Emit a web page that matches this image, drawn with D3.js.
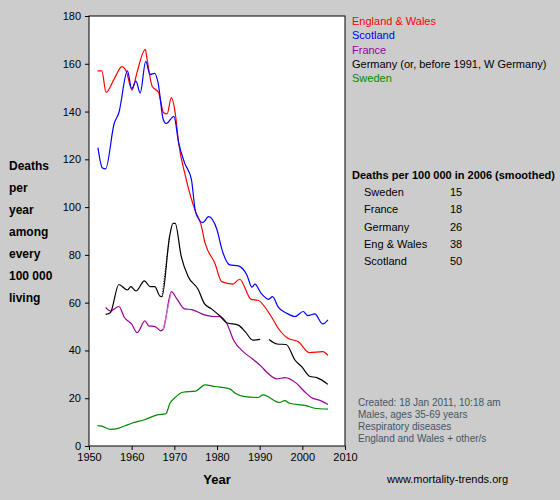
<!DOCTYPE html>
<html><head><meta charset="utf-8">
<script src="https://cdn.jsdelivr.net/npm/d3@7"></script>
<style>body{margin:0;background:#cccccc;}svg{display:block;font-family:"Liberation Sans",Arial,sans-serif;}</style>
</head><body><svg id="c" width="560" height="500"></svg>
<script>
const ewYears=[1952,1953,1954,1956,1957.7,1958.7,1960.1,1961.2,1963.2,1963.6,1964.8,1966.3,1967.5,1968.3,1969.3,1970.2,1971,1972.6,1975,1976.2,1977.2,1979.5,1981.1,1983.7,1985.3,1988,1989.6,1992.7,1994.3,1996.6,1999,2001.7,2004.8,2006];
const ewVals=[157,157,148,154,158.8,157,149,156,166,162,150.6,148,139.5,139,145.8,139.5,127,113,98,93,85,76.5,68.8,67.8,69.8,61.4,61,54.2,49.4,45.1,43.7,39.1,39.5,38];
const scYears=[1952.1,1953.1,1953.9,1955.9,1957,1959,1960,1961,1962,1963.3,1964.3,1965.4,1966.2,1967.4,1968.1,1969.9,1971,1972.4,1974,1975,1976.7,1978,1980,1981.2,1983,1985,1987,1988.2,1988.9,1990.3,1992.1,1993,1994.4,1996.3,1998.3,2000.2,2001.3,2002.9,2004.8,2006];
const scVals=[124.9,116.5,116,135,139.5,157,149.6,152.7,147.8,161,155.6,156,152,136.7,135,138,127,118.5,111.6,97.7,93.5,96,90.5,82,75.8,75.4,71.6,66.5,67.8,64,61.4,62.5,58,55.6,54.2,56.3,54.6,55.3,51.1,52.8];
const frYears=[1953.9,1955,1957,1958.3,1960,1961.3,1963.1,1964,1965.5,1966.8,1967.4,1969.3,1970.6,1972.4,1974.1,1977,1978.8,1980.7,1982.3,1983.9,1986.2,1988.2,1990.5,1991.6,1994,1995.9,1998.7,2000.6,2002.2,2004.1,2006];
const frVals=[58,56.5,58.4,53.8,51,47.5,52.4,50.3,50,48.2,48.9,64.6,61.6,57.4,57.1,54.9,54.3,54.1,51.3,44.3,39.4,36.6,33.1,31,28.1,28.6,26.1,22.6,20.2,19.1,17.4];
const deYears=[1953.9,1955,1957,1959,1959.8,1961,1963,1964.3,1965.4,1966.6,1967.1,1968.9,1969.7,1970.2,1971.6,1973.2,1975.6,1977,1978.7,1980.7,1982.3,1985,1986.6,1988.4,1990.1,1991,1992.2,1994.1,1996.2,1998.3,1999.9,2001.7,2003.4,2006];
const deVals=[55.1,55.8,67.6,65.3,66.7,64.9,69.1,66.7,66.7,62.8,62.5,87.9,93.2,93.2,79.5,71.1,65.5,59.7,57.4,54.4,51.6,50.6,47.9,44.3,44.6,null,44.6,42.7,42.5,35.9,33.1,29.2,28.6,25.8];
const deDotYears=[1967.1,1968.9];
const seYears=[1952,1953,1955,1957,1958.5,1960,1963,1966,1968,1969,1970,1972,1975,1977.2,1979.5,1983,1984.2,1986.2,1989.6,1990.8,1994.7,1995.9,1997,2000.9,2002.9,2006];
const seVals=[8.5,8.3,7,7.5,8.5,9.5,11,13,13.5,18,20,22.5,23,25.6,24.9,23.9,22.2,20.8,20.3,21.4,18.2,19,17.9,16.9,15.8,15.4];
const legendNames=["England & Wales","Scotland","France","Germany (or, before 1991, W Germany)","Sweden"];
const colors=["#ff0000","#0000ff","#990099","#000000","#008800"];
const tableNames=["Sweden","France","Germany","Eng & Wales","Scotland"];
const tableVals=[15,18,26,38,50];
const notes=["Created: 18 Jan 2011, 10:18 am","Males, ages 35-69 years","Respiratory diseases","England and Wales + other/s"];
const yLabel=["Deaths","per","year","among","every","100 000","living"];

const svg=d3.select("#c");
const x=d3.scaleLinear().domain([1950,2010]).range([89,345]);
const y=d3.scaleLinear().domain([0,180]).range([446,16]);
svg.append("rect").attr("x",89).attr("y",16).attr("width",256).attr("height",430).attr("fill","#fff").attr("stroke","#000");
const xa=svg.append("g").attr("transform","translate(0,446)").call(d3.axisBottom(x).tickValues(d3.range(1950,2011,10)).tickFormat(d3.format("d")).tickSizeOuter(0).tickSize(4));
const ya=svg.append("g").attr("transform","translate(89,0)").call(d3.axisLeft(y).tickValues(d3.range(0,181,20)).tickSizeOuter(0).tickSize(4));
[xa,ya].forEach(a=>{a.select(".domain").remove();a.selectAll("text").attr("font-size",11).attr("fill","#000").attr("font-family","Liberation Sans, Arial");});
ya.selectAll("text").attr("dx",-1);
const line=d3.line().defined(d=>d[1]!=null).x(d=>x(d[0])).y(d=>y(d[1])).curve(d3.curveMonotoneX);
const series=[[ewYears,ewVals,0],[scYears,scVals,1],[frYears,frVals,2],[deYears,deVals,3],[seYears,seVals,4]];
series.forEach(([ys,vs,i])=>{
  svg.append("path").datum(ys.map((t,k)=>[t,vs[k]])).attr("d",line).attr("fill","none").attr("stroke",colors[i]).attr("stroke-width",1.2);
});
svg.append("path").datum([[deDotYears[0],deVals[10]],[deDotYears[1],deVals[11]]]).attr("d",d3.line().x(d=>x(d[0])).y(d=>y(d[1]))).attr("fill","none").attr("stroke","#000").attr("stroke-width",1).attr("stroke-dasharray","1,1.5");
svg.append("path").datum([[frYears[10],frVals[10]],[frYears[11],frVals[11]]]).attr("d",d3.line().x(d=>x(d[0])).y(d=>y(d[1]))).attr("fill","none").attr("stroke","#cc77cc").attr("stroke-width",1);
legendNames.forEach((n,i)=>svg.append("text").attr("x",352).attr("y",25+i*14.3).attr("font-size",11).attr("fill",colors[i]).text(n));
yLabel.forEach((t,i)=>svg.append("text").attr("x",9).attr("y",170+i*22).attr("font-size",12).attr("font-weight","bold").text(t));
svg.append("text").attr("x",352).attr("y",179).attr("font-size",11).attr("font-weight","bold").text("Deaths per 100 000 in 2006 (smoothed)");
tableNames.forEach((n,i)=>{
  svg.append("text").attr("x",364).attr("y",196+i*17.3).attr("font-size",11).text(n);
  svg.append("text").attr("x",450).attr("y",196+i*17.3).attr("font-size",11).text(tableVals[i]);
});
notes.forEach((t,i)=>svg.append("text").attr("x",358).attr("y",406+i*12).attr("font-size",10).attr("fill","#445566").text(t));
svg.append("text").attr("x",217).attr("y",484).attr("font-size",13).attr("font-weight","bold").attr("text-anchor","middle").text("Year");
svg.append("text").attr("x",387).attr("y",483).attr("font-size",11).text("www.mortality-trends.org");
</script></body></html>
